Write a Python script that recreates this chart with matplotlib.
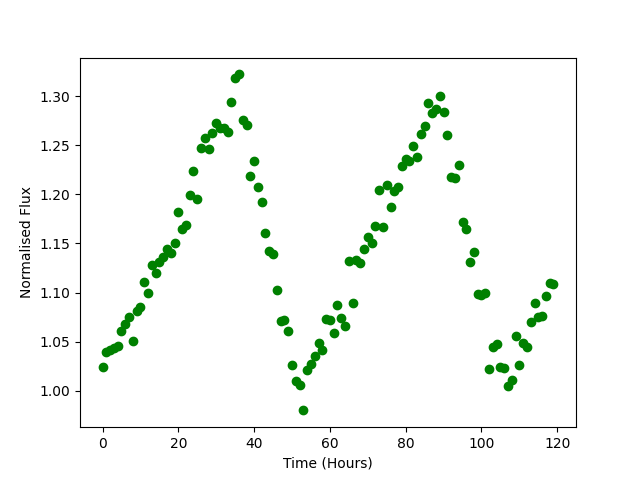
import numpy as np
import matplotlib
matplotlib.use("Agg")
import matplotlib.pyplot as plt

# hourly samples, 0..119
time_hours = np.arange(120)
flux = [
    1.024, 1.039, 1.041, 1.044, 1.046, 1.061, 1.068, 1.075, 1.051, 1.081,
    1.085, 1.111, 1.099, 1.128, 1.120, 1.131, 1.136, 1.144, 1.140, 1.150,
    1.182, 1.165, 1.169, 1.199, 1.224, 1.195, 1.247, 1.257, 1.246, 1.262,
    1.273, 1.267, 1.267, 1.263, 1.294, 1.318, 1.322, 1.276, 1.270, 1.219,
    1.234, 1.207, 1.192, 1.161, 1.142, 1.139, 1.103, 1.071, 1.072, 1.061,
    1.026, 1.010, 1.006, 0.980, 1.021, 1.027, 1.035, 1.049, 1.041, 1.073,
    1.072, 1.059, 1.087, 1.074, 1.066, 1.132, 1.089, 1.133, 1.130, 1.144,
    1.157, 1.150, 1.168, 1.204, 1.167, 1.209, 1.187, 1.203, 1.207, 1.229,
    1.236, 1.234, 1.249, 1.238, 1.261, 1.269, 1.293, 1.283, 1.287, 1.300,
    1.284, 1.260, 1.218, 1.217, 1.230, 1.172, 1.165, 1.131, 1.141, 1.098,
    1.097, 1.099, 1.022, 1.045, 1.048, 1.024, 1.023, 1.005, 1.011, 1.056,
    1.026, 1.049, 1.045, 1.070, 1.089, 1.075, 1.076, 1.096, 1.110, 1.109,
]

fig, ax = plt.subplots(figsize=(6.4, 4.8), dpi=100)
ax.plot(time_hours, flux, "go")
ax.set_xlabel("Time (Hours)")
ax.set_ylabel("Normalised Flux")

fig.savefig("out.png", dpi=100)
